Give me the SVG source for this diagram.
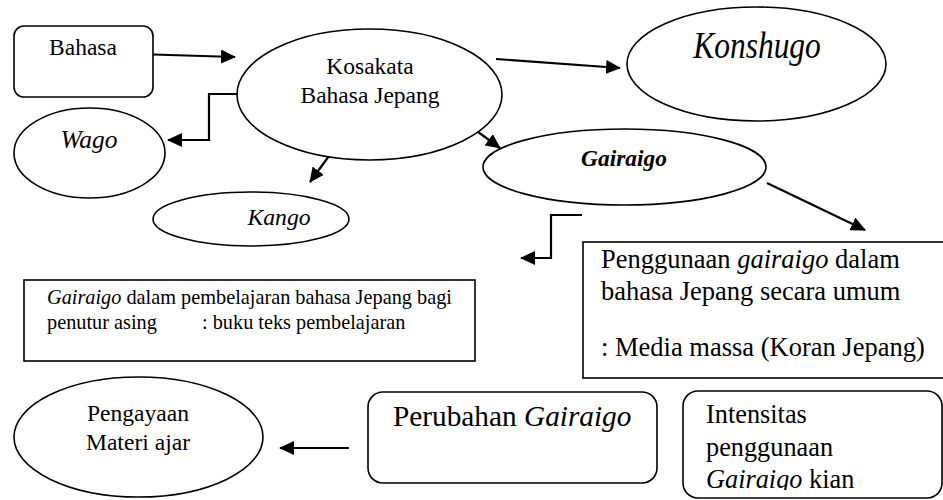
<svg xmlns="http://www.w3.org/2000/svg" width="943" height="500" viewBox="0 0 943 500" font-family="'Liberation Serif', 'Times New Roman', serif">
<style>
.shape{fill:#fff;stroke:#000;stroke-width:1.6}
.conn{fill:none;stroke:#000;stroke-width:2.2}
text{font-family:'Liberation Serif','Times New Roman',serif;fill:#000}
.c{text-anchor:middle}
.i{font-style:italic}
.bi{font-style:italic;font-weight:bold}
</style>
<defs>
<marker id="ah" markerUnits="userSpaceOnUse" viewBox="0 0 15 14" markerWidth="15" markerHeight="14" refX="14" refY="7" orient="auto">
<path d="M0,0 L15,7 L0,14 Z" fill="#000"/>
</marker>
<clipPath id="clipInt"><rect x="683" y="391" width="260" height="99"/></clipPath>
</defs>

<g id="connectors">
<path class="conn" d="M153,54.5 L235,57" marker-end="url(#ah)"/>
<path class="conn" d="M496,59 L620,68" marker-end="url(#ah)"/>
<path class="conn" d="M252,94 H209 V140 H168" marker-end="url(#ah)"/>
<path class="conn" d="M348,130 L310,182" marker-end="url(#ah)"/>
<path class="conn" d="M463,121 L500,148" marker-end="url(#ah)"/>
<path class="conn" d="M767,183 L865,230" marker-end="url(#ah)"/>
<path class="conn" d="M582,215 H551 V258 H521" marker-end="url(#ah)"/>
<path class="conn" d="M349,448 L280,448" marker-end="url(#ah)"/>
</g>

<g id="bahasa">
<rect class="shape" x="14" y="26" width="139" height="71" rx="10"/>
<text class="c" x="83" y="55" font-size="23.5">Bahasa</text>
</g>

<g id="kosakata">
<ellipse class="shape" cx="369.5" cy="94.5" rx="132.5" ry="65.5"/>
<text class="c" x="370" y="74" font-size="23.5">Kosakata</text>
<text class="c" x="370" y="103" font-size="23.5">Bahasa Jepang</text>
</g>

<g id="konshugo">
<ellipse class="shape" cx="756.5" cy="64" rx="129.5" ry="57"/>
<text class="c i" x="0" y="0" font-size="31.5" transform="translate(757,58) scale(1,1.18)">Konshugo</text>
</g>

<g id="wago">
<ellipse class="shape" cx="89.5" cy="153" rx="75.5" ry="45"/>
<text class="c i" x="89" y="148" font-size="25.5">Wago</text>
</g>

<g id="kango">
<ellipse class="shape" cx="251" cy="219" rx="98" ry="27"/>
<text class="c i" x="279" y="225" font-size="23.7">Kango</text>
</g>

<g id="gairaigo">
<ellipse class="shape" cx="624.5" cy="167" rx="141.5" ry="38"/>
<text class="c bi" x="624" y="166" font-size="23.4">Gairaigo</text>
</g>

<g id="gairaigo-pembelajaran">
<rect class="shape" x="24" y="280" width="451" height="81"/>
<text x="47" y="304" font-size="20.3"><tspan class="i">Gairaigo</tspan> dalam pembelajaran bahasa Jepang bagi</text>
<text x="47" y="329" font-size="20.3">penutur asing</text>
<text x="202" y="329" font-size="20.3">: buku teks pembelajaran</text>
</g>

<g id="penggunaan">
<rect class="shape" x="583" y="242" width="370" height="136"/>
<text x="601" y="268" font-size="26.5">Penggunaan <tspan class="i">gairaigo</tspan> dalam</text>
<text x="601" y="300" font-size="26.5">bahasa Jepang secara umum</text>
<text x="601" y="356" font-size="26.5">: Media massa (Koran Jepang)</text>
</g>

<g id="pengayaan">
<ellipse class="shape" cx="138.5" cy="437" rx="124.5" ry="60"/>
<text class="c" x="138" y="421" font-size="23.6">Pengayaan</text>
<text class="c" x="138" y="450" font-size="23.6">Materi ajar</text>
</g>

<g id="perubahan">
<rect class="shape" x="368" y="392" width="289" height="91" rx="15"/>
<text x="393" y="426" font-size="29.3">Perubahan <tspan class="i">Gairaigo</tspan></text>
</g>

<g id="intensitas">
<rect class="shape" x="683" y="391" width="259" height="107" rx="15"/>
<g clip-path="url(#clipInt)">
<text x="706" y="423" font-size="26.3">Intensitas</text>
<text x="706" y="456" font-size="26.3">penggunaan</text>
<text x="706" y="488" font-size="26.3"><tspan class="i">Gairaigo</tspan> kian</text>
</g>
</g>
</svg>
